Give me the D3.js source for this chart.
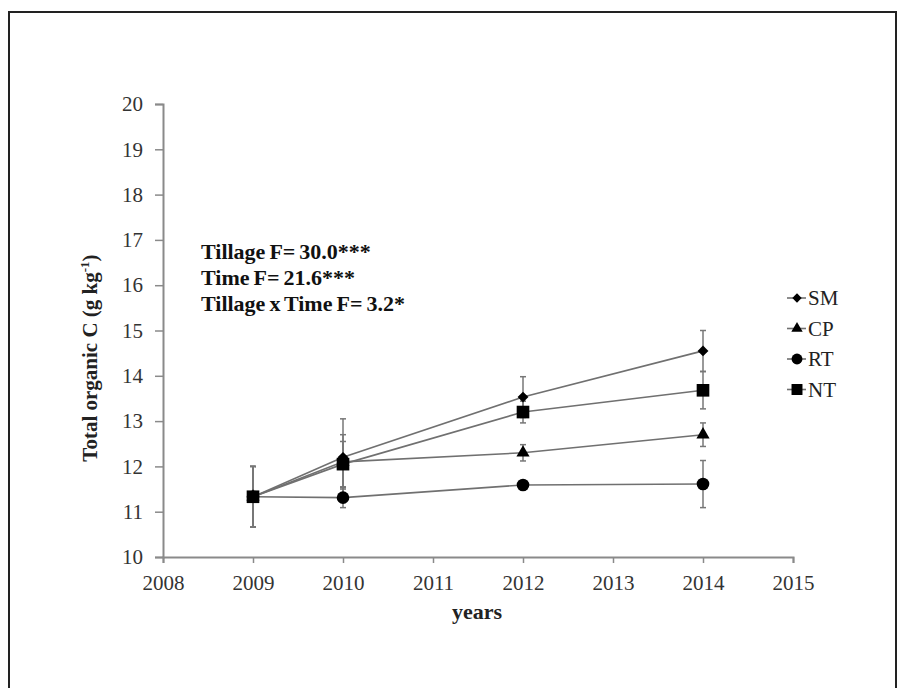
<!DOCTYPE html>
<html>
<head>
<meta charset="utf-8">
<script src="https://cdn.jsdelivr.net/npm/d3@7"></script>
<style>
  body { margin: 0; background: #fff; }
</style>
</head>
<body>
<svg width="905" height="688"></svg>
<script>
// data
var years = [2009, 2010, 2012, 2014];
var seriesNames = ["SM", "CP", "RT", "NT"];
var smVals = [11.33, 12.2, 13.53, 14.55];
var smErr  = [0.67, 0.85, 0.45, 0.45];
var cpVals = [11.33, 12.1, 12.3, 12.7];
var cpErr  = [0.67, 0.6, 0.18, 0.26];
var rtVals = [11.33, 11.31, 11.59, 11.61];
var rtErr  = [0.67, 0.22, 0.05, 0.52];
var ntVals = [11.33, 12.05, 13.2, 13.68];
var ntErr  = [0.67, 0.5, 0.24, 0.41];
var yTicks = [10, 11, 12, 13, 14, 15, 16, 17, 18, 19, 20];
var xTicks = [2008, 2009, 2010, 2011, 2012, 2013, 2014, 2015];
var statLines = ["Tillage F= 30.0***", "Time F= 21.6***", "Tillage x Time F= 3.2*"];

var series = [
  { name: "SM", vals: smVals, err: smErr, sym: d3.symbolDiamond2, size: 75 },
  { name: "CP", vals: cpVals, err: cpErr, sym: d3.symbolTriangle, size: 75 },
  { name: "RT", vals: rtVals, err: rtErr, sym: d3.symbolCircle, size: 125 },
  { name: "NT", vals: ntVals, err: ntErr, sym: d3.symbolSquare, size: 160 }
];

var svg = d3.select("svg");
var serif = "Liberation Serif";

// outer frame
svg.append("rect")
  .attr("x", 9).attr("y", 12)
  .attr("width", 887).attr("height", 700)
  .attr("fill", "none").attr("stroke", "#222").attr("stroke-width", 2);

var x = d3.scaleLinear().domain([2008, 2015]).range([163, 793]);
var y = d3.scaleLinear().domain([10, 20]).range([557, 104]);

var axisCol = "#8a8a8a";

var yAxis = svg.append("g")
  .attr("transform", "translate(163,0)")
  .call(d3.axisLeft(y).tickValues(yTicks).tickSize(8).tickPadding(12).tickFormat(d3.format("d")));
var xAxis = svg.append("g")
  .attr("transform", "translate(0,557)")
  .call(d3.axisBottom(x).tickValues(xTicks).tickSize(6).tickPadding(12).tickFormat(d3.format("d")));

[yAxis, xAxis].forEach(function (a) {
  a.attr("font-family", serif).attr("font-size", 21);
  a.select(".domain").attr("stroke", axisCol).attr("stroke-width", 2);
  a.selectAll(".tick line").attr("stroke", axisCol).attr("stroke-width", 1.5);
  a.selectAll("text").attr("fill", "#333");
});

// axis titles
svg.append("text")
  .attr("transform", "translate(97,358) rotate(-90)")
  .attr("text-anchor", "middle")
  .attr("font-family", serif)
  .attr("font-size", 21).attr("font-weight", "bold").attr("fill", "#222")
  .html("Total organic C (g kg<tspan dy='-8' font-size='13'>-1</tspan><tspan dy='8'>)</tspan>");

svg.append("text")
  .attr("x", 477).attr("y", 619)
  .attr("text-anchor", "middle")
  .attr("font-family", serif)
  .attr("font-size", 22).attr("font-weight", "bold").attr("fill", "#222")
  .text("years");

// stats text
svg.selectAll(".stat")
  .data(statLines)
  .enter().append("text")
  .attr("class", "stat")
  .attr("x", 201)
  .attr("y", function (d, i) { return 259 + i * 26; })
  .attr("font-family", serif)
  .attr("font-size", 22).attr("font-weight", "bold").attr("fill", "#111")
  .attr("word-spacing", -1.5)
  .text(function (d) { return d; });

var line = d3.line()
  .x(function (d, i) { return x(years[i]); })
  .y(function (d) { return y(d); });

// error bars
series.forEach(function (s) {
  var g = svg.append("g");
  s.vals.forEach(function (v, i) {
    var cx = x(years[i]);
    var e = s.err[i];
    g.append("line")
      .attr("x1", cx).attr("x2", cx)
      .attr("y1", y(v - e)).attr("y2", y(v + e))
      .attr("stroke", "#777").attr("stroke-width", 1.5);
    [v - e, v + e].forEach(function (t) {
      g.append("line")
        .attr("x1", cx - 3).attr("x2", cx + 3)
        .attr("y1", y(t)).attr("y2", y(t))
        .attr("stroke", "#777").attr("stroke-width", 1.5);
    });
  });
});

// lines
series.forEach(function (s) {
  svg.append("path")
    .datum(s.vals)
    .attr("d", line)
    .attr("fill", "none")
    .attr("stroke", "#707070")
    .attr("stroke-width", 1.6);
});

// markers
series.forEach(function (s) {
  svg.selectAll(".m-" + s.name)
    .data(s.vals)
    .enter().append("path")
    .attr("d", d3.symbol().type(s.sym).size(s.size))
    .attr("transform", function (d, i) { return "translate(" + x(years[i]) + "," + y(d) + ")"; })
    .attr("fill", "#000");
});

// legend
var legend = svg.selectAll(".leg")
  .data(series)
  .enter().append("g")
  .attr("class", "leg")
  .attr("transform", function (d, i) { return "translate(797," + (298 + i * 30.5) + ")"; });

legend.append("line")
  .attr("x1", -10).attr("x2", 9)
  .attr("stroke", "#707070").attr("stroke-width", 1.6);
legend.append("path")
  .attr("d", function (d) { return d3.symbol().type(d.sym).size(d.size * 0.75)(); })
  .attr("fill", "#000");
legend.append("text")
  .attr("x", 11).attr("y", 7)
  .attr("font-family", serif)
  .attr("font-size", 21).attr("fill", "#222")
  .text(function (d) { return d.name; });
</script>
</body>
</html>
